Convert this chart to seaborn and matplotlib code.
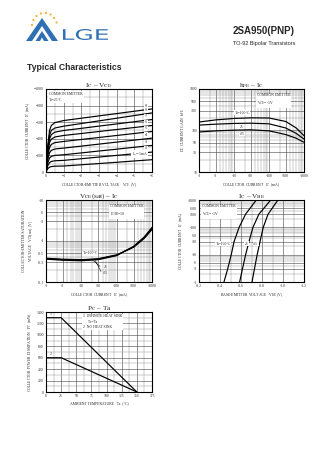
import numpy as np
import pandas as pd
import matplotlib
matplotlib.use("Agg")
import matplotlib.pyplot as plt
import seaborn as sns
from matplotlib.patches import Polygon, Circle, PathPatch
from matplotlib.textpath import TextPath
from matplotlib.font_manager import FontProperties
from matplotlib.transforms import Affine2D
from matplotlib.ticker import FixedLocator, MultipleLocator, NullFormatter

sns.set_theme(style="white")
plt.rcParams['font.family'] = ['Liberation Serif', 'DejaVu Sans']
plt.rcParams['mathtext.fontset'] = 'stix'

# ---------------- data ----------------
# IC - VCE output characteristics (Ta = 25 C)
vce = [0, -0.05, -0.1, -0.2, -0.3, -0.5, -1, -2, -3, -4, -5, -6]
ib_labels = ["-9", "-8", "-7", "-6", "-5", "-4", "-3", "-2", "I$_B$=-1mA"]
ic_ib9 = [0, -160, -320, -500, -560, -595, -620, -648, -676, -704, -732, -760]
ic_ib8 = [0, -140, -285, -445, -500, -530, -552, -584, -616, -648, -680, -712]
ic_ib7 = [0, -125, -255, -400, -450, -480, -500, -526, -553, -579, -606, -632]
ic_ib6 = [0, -110, -225, -355, -395, -422, -440, -464, -488, -512, -536, -560]
ic_ib5 = [0, -95, -190, -295, -332, -354, -368, -392, -416, -440, -464, -488]
ic_ib4 = [0, -75, -150, -232, -260, -277, -288, -312, -336, -360, -384, -408]
ic_ib3 = [0, -55, -110, -168, -188, -200, -208, -230, -253, -275, -298, -320]
ic_ib2 = [0, -38, -75, -113, -127, -135, -140, -160, -180, -200, -220, -240]
ic_ib1 = [0, -20, -40, -58, -65, -70, -72, -87, -102, -117, -133, -148]

# hFE - IC (VCE = -1 V)
ic_h = [-1, -3, -10, -30, -100, -300, -600, -1000]
hfe_100 = [160, 180, 195, 202, 200, 165, 115, 75]
hfe_25 = [135, 142, 148, 150, 145, 115, 85, 62]
hfe_m25 = [92, 98, 102, 104, 98, 80, 65, 52]

# VCE(sat) - IC (IC/IB = 10)
ic_s = [-1, -3, -10, -30, -100, -300, -600, -1000]
vsat_100 = [-0.36, -0.34, -0.33, -0.35, -0.44, -0.74, -1.25, -2.15]
vsat_25 = [-0.37, -0.35, -0.34, -0.36, -0.45, -0.72, -1.2, -2.0]
vsat_m25 = [-0.38, -0.36, -0.35, -0.37, -0.46, -0.70, -1.15, -1.9]

# IC - VBE (VCE = -1 V)
ic_b = [-1, -3, -10, -30, -100, -300, -1000]
vbe_100 = [-0.438, -0.473, -0.507, -0.534, -0.582, -0.643, -0.746]
vbe_25 = [-0.587, -0.614, -0.644, -0.676, -0.714, -0.770, -0.883]
vbe_m25 = [-0.705, -0.728, -0.754, -0.781, -0.812, -0.857, -0.952]

# PC - Ta derating
ta_pts = [0, 25, 150]
pc_sink = [1300, 1300, 0]
pc_free = [600, 600, 0]

# ---------------- figure ----------------
W, H = 336, 475
fig = plt.figure(figsize=(3.36, 4.75), dpi=100)


def rect(x0, y0, x1, y1):
    return [x0 / W, 1 - y1 / H, (x1 - x0) / W, (y1 - y0) / H]


TXT = 2.7
WHITE = dict(facecolor="white", edgecolor="none", pad=0.3)


def style(ax):
    for s in ax.spines.values():
        s.set_linewidth(0.8)
        s.set_color("black")
    ax.tick_params(axis="both", which="both", length=0, labelsize=TXT, pad=1.5)
    ax.grid(True, which="major", color="#444444", lw=0.4)
    ax.grid(True, which="minor", color="#8a8a8a", lw=0.3)
    ax.set_axisbelow(True)


def line(ax, x, y):
    sns.lineplot(x=x, y=y, ax=ax, color="black", lw=0.85, sort=False,
                 estimator=None, legend=False)


def note(ax, x, y, s, ha="left"):
    ax.text(x, y, s, transform=ax.transAxes, fontsize=TXT, ha=ha, va="top",
            linespacing=1.5,
            bbox=dict(facecolor="white", edgecolor="none", pad=0.6))


def title(ax, s):
    ax.set_title(s, fontsize=5.2, pad=1.5)


# ---- header ----
hd = fig.add_axes([0, 0, 1, 1], zorder=-5)
hd.set_xlim(0, W)
hd.set_ylim(H, 0)
hd.axis("off")
blue = "#2f6fb3"
hd.add_patch(Polygon([[26, 41], [42, 18], [58, 41]], closed=True, fc=blue, ec="none"))
hd.add_patch(Polygon([[32, 41], [42, 26], [52, 41]], closed=True, fc="white", ec="none"))
hd.add_patch(Polygon([[35.5, 41], [42, 31], [48.5, 41]], closed=True, fc=blue, ec="none"))
hd.add_patch(Polygon([[40, 41], [42, 37.5], [44, 41]], closed=True, fc="white", ec="none"))
for (dx, dy) in [(32, 25), (33.5, 20), (36.5, 16), (41, 13.5), (46, 13), (50.5, 14.5), (54, 18), (56.5, 22.5)]:
    hd.add_patch(Circle((dx, dy), 1.1, fc="#f2b234", ec="none"))

# wide "LGE" wordmark: glyph outlines stretched into their box
word = TextPath((0, 0), "LGE", size=1, prop=FontProperties(family="DejaVu Sans"))
ext = word.get_extents()
sx = (108 - 63) / ext.width
sy = (40 - 29) / ext.height
tf = Affine2D().translate(-ext.x0, -ext.y0).scale(sx, -sy).translate(63, 40)
hd.add_patch(PathPatch(tf.transform_path(word), fc=blue, ec="none"))

hd.text(264, 31, "2SA950(PNP)", fontsize=7, fontweight="bold",
        family="Liberation Sans", ha="center", va="center")
hd.text(264, 44, "TO-92 Bipolar Transistors", fontsize=4, family="Liberation Sans",
        ha="center", va="center")
hd.text(27, 68, "Typical Characteristics", fontsize=6.2, fontweight="bold",
        family="Liberation Sans", ha="left", va="center")

# ---- IC - VCE ----
ax1 = fig.add_axes(rect(46, 89, 152, 172))
curves1 = [ic_ib9, ic_ib8, ic_ib7, ic_ib6, ic_ib5, ic_ib4, ic_ib3, ic_ib2, ic_ib1]
for c in curves1:
    line(ax1, vce, c)
ax1.set_xlim(0, -6)
ax1.set_ylim(0, -1000)
ax1.xaxis.set_major_locator(FixedLocator([0, -1, -2, -3, -4, -5, -6]))
ax1.xaxis.set_minor_locator(FixedLocator([-0.5, -1.5, -2.5, -3.5, -4.5, -5.5]))
ax1.yaxis.set_major_locator(FixedLocator([0, -200, -400, -600, -800, -1000]))
ax1.yaxis.set_minor_locator(FixedLocator([-100, -300, -500, -700, -900]))
style(ax1)
for lab, c in zip(ib_labels, curves1):
    ax1.text(-5.75, c[-2] - 40, lab, fontsize=TXT, ha="right", va="bottom", bbox=WHITE)
note(ax1, 0.03, 0.96, "COMMON EMITTER\nTa=25°C")
title(ax1, r"I$_{\rm C}$ – V$_{\rm CE}$")
ax1.set_xlabel(r"COLLECTOR-EMITTER VOLTAGE   V$_{\rm CE}$  (V)", fontsize=TXT, labelpad=2)
ax1.set_ylabel(r"COLLECTOR CURRENT   I$_{\rm C}$  (mA)", fontsize=TXT, labelpad=2)

# ---- hFE - IC ----
ax2 = fig.add_axes(rect(199, 89, 304, 172))
for h in [hfe_100, hfe_25, hfe_m25]:
    line(ax2, [-v for v in ic_h], h)
ax2.set_xscale("log")
ax2.set_yscale("log")
ax2.set_xlim(1, 1000)
ax2.set_ylim(10, 1000)
xt = [1, 3, 10, 30, 100, 300, 1000]
ax2.xaxis.set_major_locator(FixedLocator(xt))
ax2.set_xticklabels([f"-{v}" for v in xt])
ax2.xaxis.set_minor_locator(FixedLocator([m * 10 ** d for d in range(0, 3) for m in range(2, 10)]))
ax2.xaxis.set_minor_formatter(NullFormatter())
yt = [10, 30, 50, 100, 300, 500, 1000]
ax2.yaxis.set_major_locator(FixedLocator(yt))
ax2.set_yticklabels([str(v) for v in yt])
ax2.yaxis.set_minor_locator(FixedLocator([m * 10 ** d for d in range(1, 3) for m in range(2, 10)]))
ax2.yaxis.set_minor_formatter(NullFormatter())
style(ax2)
note(ax2, 0.55, 0.95, "COMMON EMITTER\n" + r"V$_{\rm CE}$= -1V")
ax2.text(17, 240, "Ta=100°C", fontsize=TXT, ha="center", va="bottom", bbox=WHITE)
ax2.text(17, 122, "25", fontsize=TXT, ha="center", va="center", bbox=WHITE)
ax2.text(17, 82, "-25", fontsize=TXT, ha="center", va="center", bbox=WHITE)
title(ax2, r"h$_{\rm FE}$ – I$_{\rm C}$")
ax2.set_xlabel(r"COLLECTOR CURRENT   I$_{\rm C}$  (mA)", fontsize=TXT, labelpad=2)
ax2.set_ylabel(r"DC CURRENT GAIN   h$_{\rm FE}$", fontsize=TXT, labelpad=2)

# ---- VCE(sat) - IC ----
ax3 = fig.add_axes(rect(46, 200, 152, 282))
for v in [vsat_100, vsat_25, vsat_m25]:
    line(ax3, [-i for i in ic_s], [-x for x in v])
ax3.set_xscale("log")
ax3.set_yscale("log")
ax3.set_xlim(1, 1000)
ax3.set_ylim(0.1, 10)
ax3.xaxis.set_major_locator(FixedLocator(xt))
ax3.set_xticklabels([f"-{v}" for v in xt])
ax3.xaxis.set_minor_locator(FixedLocator([m * 10 ** d for d in range(0, 3) for m in range(2, 10)]))
ax3.xaxis.set_minor_formatter(NullFormatter())
yt3 = [0.1, 0.3, 0.5, 1, 3, 5, 10]
ax3.yaxis.set_major_locator(FixedLocator(yt3))
ax3.set_yticklabels([f"-{v:g}" for v in yt3])
ax3.yaxis.set_minor_locator(FixedLocator([m * 10 ** d for d in range(-1, 1) for m in range(2, 10)]))
ax3.yaxis.set_minor_formatter(NullFormatter())
style(ax3)
note(ax3, 0.6, 0.95, "COMMON EMITTER\n" + r"I$_{\rm C}$/I$_{\rm B}$=10")
ax3.text(18, 0.45, "Ta=100°C", fontsize=TXT, ha="center", va="bottom", bbox=WHITE)
ax3.plot([22, 34], [0.33, 0.24], color="black", lw=0.4)
ax3.plot([25, 36], [0.33, 0.18], color="black", lw=0.4)
ax3.text(42, 0.235, "25", fontsize=TXT, ha="left", va="center")
ax3.text(42, 0.17, "-25", fontsize=TXT, ha="left", va="center")
title(ax3, r"V$_{\rm CE}$(sat) – I$_{\rm C}$")
ax3.set_xlabel(r"COLLECTOR CURRENT   I$_{\rm C}$  (mA)", fontsize=TXT, labelpad=2)
ax3.set_ylabel("COLLECTOR-EMITTER SATURATION\n" + r"VOLTAGE   V$_{\rm CE}$(sat)  (V)",
               fontsize=TXT, labelpad=2)

# ---- IC - VBE ----
ax4 = fig.add_axes(rect(199, 200, 304, 282))
for v in [vbe_100, vbe_25, vbe_m25]:
    line(ax4, v, [-i for i in ic_b])
ax4.set_yscale("log")
ax4.set_xlim(-0.2, -1.2)
ax4.set_ylim(1, 1000)
ax4.xaxis.set_major_locator(FixedLocator([-0.2, -0.4, -0.6, -0.8, -1.0, -1.2]))
ax4.set_xticklabels(["-0.2", "-0.4", "-0.6", "-0.8", "-1.0", "-1.2"])
ax4.xaxis.set_minor_locator(FixedLocator([-0.3, -0.5, -0.7, -0.9, -1.1]))
yt4 = [1, 3, 5, 10, 30, 50, 100, 300, 500, 1000]
ax4.yaxis.set_major_locator(FixedLocator(yt4))
ax4.set_yticklabels([f"-{v}" for v in yt4])
ax4.yaxis.set_minor_locator(FixedLocator([m * 10 ** d for d in range(0, 3) for m in range(2, 10)]))
ax4.yaxis.set_minor_formatter(NullFormatter())
style(ax4)
note(ax4, 0.03, 0.95, "COMMON EMITTER\n" + r"V$_{\rm CE}$= -1V")
ax4.text(-0.43, 25, "Ta=100°C", fontsize=TXT, ha="center", va="center", bbox=WHITE)
ax4.text(-0.65, 25, "25", fontsize=TXT, ha="center", va="center", bbox=WHITE)
ax4.text(-0.74, 25, "-25", fontsize=TXT, ha="center", va="center", bbox=WHITE)
title(ax4, r"I$_{\rm C}$ – V$_{\rm BE}$")
ax4.set_xlabel(r"BASE-EMITTER VOLTAGE   V$_{\rm BE}$  (V)", fontsize=TXT, labelpad=2)
ax4.set_ylabel(r"COLLECTOR CURRENT   I$_{\rm C}$  (mA)", fontsize=TXT, labelpad=2)

# ---- PC - Ta ----
ax5 = fig.add_axes(rect(46, 312, 152, 392))
line(ax5, ta_pts, pc_sink)
line(ax5, ta_pts, pc_free)
ax5.set_xlim(0, 175)
ax5.set_ylim(0, 1400)
ax5.xaxis.set_major_locator(MultipleLocator(25))
ax5.xaxis.set_minor_locator(MultipleLocator(12.5))
ax5.yaxis.set_major_locator(MultipleLocator(200))
ax5.yaxis.set_minor_locator(MultipleLocator(100))
style(ax5)
note(ax5, 0.35, 0.97, "1  INFINITE HEAT SINK\n     Tc=Ta\n2  NO HEAT SINK")
ax5.text(8, 1330, "1", fontsize=TXT, ha="center", va="bottom")
ax5.text(8, 630, "2", fontsize=TXT, ha="center", va="bottom")
title(ax5, r"P$_{\rm C}$ – Ta")
ax5.set_xlabel("AMBIENT TEMPERATURE   Ta  (°C)", fontsize=TXT, labelpad=2)
ax5.set_ylabel(r"COLLECTOR POWER DISSIPATION   P$_{\rm C}$  (mW)", fontsize=TXT, labelpad=2)

fig.savefig("out.png", dpi=100, facecolor="white")
